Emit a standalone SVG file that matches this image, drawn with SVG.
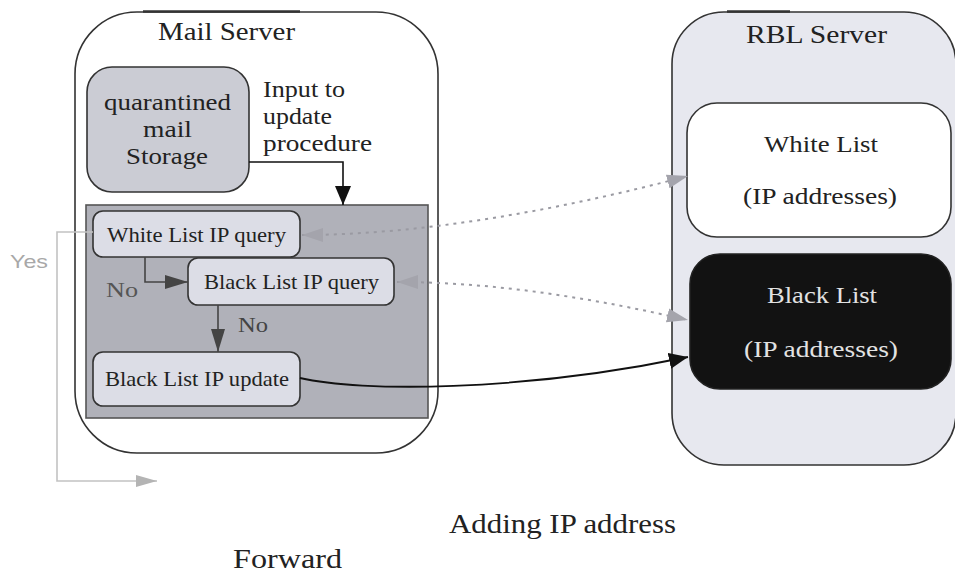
<svg xmlns="http://www.w3.org/2000/svg" width="955" height="573" viewBox="0 0 955 573" font-family="'Liberation Serif', serif">
  <style>
    .t { font-family: "Liberation Serif", serif; fill: #222; }
    .title { font-size: 26px; }
    .lbl { font-size: 23px; }
    .step { font-size: 21px; }
    .big { font-size: 27px; }
    .box { stroke: #333; stroke-width: 1.6; }
    .step-box { fill: #dcdde6; stroke: #333; stroke-width: 1.6; }
    .dot { fill: none; stroke: #9a9aa2; stroke-width: 2; stroke-dasharray: 3 5; }
  </style>
  <defs>
    <marker id="m-black" markerUnits="userSpaceOnUse" markerWidth="20" markerHeight="16" refX="19" refY="8" orient="auto">
      <path d="M0,0 L19,8 L0,16 z" fill="#111"/>
    </marker>
    <marker id="m-dark" markerUnits="userSpaceOnUse" markerWidth="24" markerHeight="16" refX="23" refY="8" orient="auto">
      <path d="M0,1 L23,8 L0,15 z" fill="#444"/>
    </marker>
    <marker id="m-gray" markerUnits="userSpaceOnUse" markerWidth="22" markerHeight="16" refX="21" refY="8" orient="auto-start-reverse">
      <path d="M0,1 L21,8 L0,15 z" fill="#a4a4ac"/>
    </marker>
    <marker id="m-light" markerUnits="userSpaceOnUse" markerWidth="22" markerHeight="14" refX="21" refY="7" orient="auto">
      <path d="M0,1 L21,7 L0,13 z" fill="#b4b4b4"/>
    </marker>
  </defs>

  <rect width="955" height="573" fill="#ffffff"/>

  <!-- Mail server container -->
  <g id="mail-server">
    <rect class="box" x="75" y="12" width="363" height="441" rx="62" fill="#ffffff"/>
    <line x1="143" y1="11.5" x2="300" y2="11.5" stroke="#333" stroke-width="2.4"/>
    <text class="t title" x="158" y="40" textLength="137" lengthAdjust="spacingAndGlyphs">Mail Server</text>
  </g>

  <!-- RBL server container -->
  <g id="rbl-server">
    <rect class="box" x="672" y="12" width="284" height="453" rx="52" fill="#e7e8ef"/>
    <line x1="727" y1="11.5" x2="790" y2="11.5" stroke="#333" stroke-width="2.4"/>
    <text class="t title" x="746" y="43" textLength="141" lengthAdjust="spacingAndGlyphs">RBL Server</text>
  </g>

  <g id="storage">
    <rect class="box" x="87" y="67" width="162" height="125" rx="25" fill="#cbccd4"/>
    <text class="t lbl" x="104" y="110" textLength="127" lengthAdjust="spacingAndGlyphs">quarantined</text>
    <text class="t lbl" x="143" y="137" textLength="49" lengthAdjust="spacingAndGlyphs">mail</text>
    <text class="t lbl" x="126" y="164" textLength="82" lengthAdjust="spacingAndGlyphs">Storage</text>
  </g>

  <g id="input-note">
    <text class="t lbl" x="263" y="97" textLength="82" lengthAdjust="spacingAndGlyphs">Input to</text>
    <text class="t lbl" x="263" y="124" textLength="69" lengthAdjust="spacingAndGlyphs">update</text>
    <text class="t lbl" x="263" y="151" textLength="109" lengthAdjust="spacingAndGlyphs">procedure</text>
  </g>

  <g id="procedure">
    <rect x="86" y="205" width="342" height="213" fill="#b0b1b9" stroke="#555" stroke-width="1.6"/>
  </g>

  <g id="white-query">
    <rect class="step-box" x="93" y="211" width="207" height="46" rx="10"/>
    <text class="t step" x="107" y="242" textLength="179" lengthAdjust="spacingAndGlyphs">White List IP query</text>
  </g>

  <g id="black-query">
    <rect class="step-box" x="188" y="258" width="206" height="47" rx="10"/>
    <text class="t step" x="204" y="289" textLength="175" lengthAdjust="spacingAndGlyphs">Black List IP query</text>
  </g>

  <g id="black-update">
    <rect class="step-box" x="93" y="352" width="207" height="54" rx="10"/>
    <text class="t step" x="105" y="386" textLength="184" lengthAdjust="spacingAndGlyphs">Black List IP update</text>
  </g>

  <g id="white-list">
    <rect class="box" x="687" y="103" width="264" height="134" rx="30" fill="#ffffff"/>
    <text class="t lbl" x="764" y="152" textLength="114" lengthAdjust="spacingAndGlyphs">White List</text>
    <text class="t lbl" x="743" y="204" textLength="154" lengthAdjust="spacingAndGlyphs">(IP addresses)</text>
  </g>

  <g id="black-list">
    <rect x="690" y="254" width="261" height="135" rx="30" fill="#121212" stroke="#222" stroke-width="1.6"/>
    <text class="t lbl" x="767" y="303" textLength="110" lengthAdjust="spacingAndGlyphs" style="fill:#e2e2e2">Black List</text>
    <text class="t lbl" x="744" y="357" textLength="154" lengthAdjust="spacingAndGlyphs" style="fill:#e2e2e2">(IP addresses)</text>
  </g>

  <!-- connectors -->
  <g id="connectors">
    <path d="M249,162 H343 V205" fill="none" stroke="#111" stroke-width="1.6" marker-end="url(#m-black)"/>
    <path d="M145,257 V282 H188" fill="none" stroke="#444" stroke-width="1.6" marker-end="url(#m-dark)"/>
    <path d="M218,305 V352" fill="none" stroke="#444" stroke-width="1.6" marker-end="url(#m-dark)"/>
    <path class="dot" d="M302,235 C420,235 560,210 688,176" marker-start="url(#m-gray)" marker-end="url(#m-gray)"/>
    <path class="dot" d="M397,282 C500,282 600,300 688,320" marker-start="url(#m-gray)" marker-end="url(#m-gray)"/>
    <path d="M300,378 C360,392 520,392 688,357" fill="none" stroke="#111" stroke-width="1.8" marker-end="url(#m-black)"/>
    <path d="M93,232 H57 V481 H157" fill="none" stroke="#c2c2c2" stroke-width="1.6" marker-end="url(#m-light)"/>
  </g>

  <g id="labels">
    <text class="t" x="106" y="297" style="font-size:22px;fill:#555" textLength="32" lengthAdjust="spacingAndGlyphs">No</text>
    <text class="t" x="238" y="332" style="font-size:22px;fill:#444" textLength="30" lengthAdjust="spacingAndGlyphs">No</text>
    <text x="10" y="268" style="font-family:'Liberation Sans',sans-serif;font-size:19px;fill:#a8a8a8" textLength="38" lengthAdjust="spacingAndGlyphs">Yes</text>
    <text class="t big" x="449" y="533" textLength="227" lengthAdjust="spacingAndGlyphs">Adding IP address</text>
    <text class="t big" x="233" y="568" textLength="109" lengthAdjust="spacingAndGlyphs">Forward</text>
  </g>
</svg>
